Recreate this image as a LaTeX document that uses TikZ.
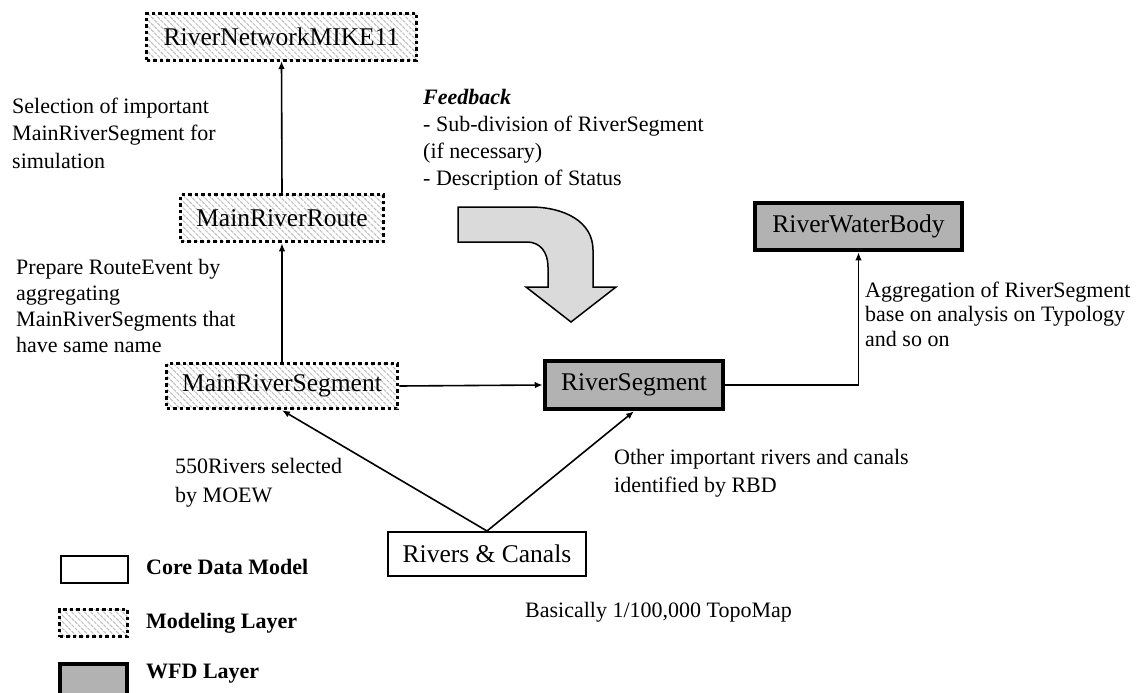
\documentclass[tikz,border=0pt]{standalone}
\usepackage{fontspec}
\setmainfont{Liberation Serif}
\usetikzlibrary{arrows.meta,patterns.meta}
\definecolor{wfdgray}{HTML}{B2B2B2}
\definecolor{hatchgray}{HTML}{BEBEBE}
\definecolor{feedgray}{HTML}{DADADA}

\begin{document}
\begin{tikzpicture}[x=1pt,y=-1pt,
  boxfont/.style={font=\fontsize{25.5}{30}\selectfont},
  core/.style={boxfont, draw, line width=2pt, fill=white, inner sep=0pt},
  model/.style={boxfont, draw, line width=3.5pt, dash pattern=on 3.5pt off 3pt,
    pattern={Lines[angle=-45,distance=4.5pt,line width=1pt]}, pattern color=hatchgray,
    inner sep=0pt},
  wfd/.style={boxfont, draw, line width=4.5pt, fill=wfdgray, inner sep=0pt},
  conn/.style={line width=1.6pt, -{Latex[length=8pt,width=6.5pt]}},
  % multi-line notes are placed by the baseline of their last line
  note/.style={anchor=base west, align=left, inner sep=0pt,
    font=\fontsize{22}{#1}\selectfont},
  legend/.style={anchor=base west, inner sep=0pt,
    font=\fontsize{22}{26}\selectfont\bfseries},
]
\useasboundingbox (0,0) rectangle (1140,693);

% data model boxes
\node[model, minimum width=270pt, minimum height=47pt] (mike) at (281.5,37) {RiverNetworkMIKE11};
\node[model, minimum width=203pt, minimum height=47pt] (route) at (282,218) {MainRiverRoute};
\node[model, minimum width=231pt, minimum height=45pt] (mseg) at (282,386) {MainRiverSegment};
\node[wfd, minimum width=178pt, minimum height=48pt] (rseg) at (634,385) {RiverSegment};
\node[wfd, minimum width=207pt, minimum height=47pt] (rwb) at (858.5,226.5) {RiverWaterBody};
\node[core, minimum width=198pt, minimum height=44pt] (rc) at (487,554) {Rivers \& Canals};

% connectors
\draw[conn] (route.north) -- (mike.south);
\draw[conn] (mseg.north) -- (route.south);
\draw[conn] (mseg.east) -- (rseg.west);
\draw[conn] (rseg.east) -| (rwb.south);
\draw[conn] (rc.north) -- (mseg.south);
\draw[conn] (rc.north) -- (rseg.south);

% feedback arrow
\draw[line width=1.5pt, fill=feedgray, line join=miter]
  (458,207) -- (530,207) .. controls (565,207) and (593,222) .. (593,250)
  -- (593,287) -- (616,287) -- (571,322) -- (526,287) -- (548,287) -- (548,267)
  .. controls (548,252) and (540,242) .. (527,242) -- (458,242) -- cycle;

% annotations
\node[note=27.8] (selnote) at (12,168.6) {Selection of important\\MainRiverSegment for\\simulation};
\node[note=25.7] (prepnote) at (16,352) {Prepare RouteEvent by\\aggregating\\MainRiverSegments that\\have same name};
\node[note=26.7] (feednote) at (423,185) {\textbf{\textit{Feedback}}\\- Sub-division of RiverSegment\\(if necessary)\\- Description of Status};
\node[note=24.5] (aggnote) at (865,346) {Aggregation of RiverSegment\\base on analysis on Typology\\and so on};
\node[note=29] (moewnote) at (175,502) {550Rivers selected\\by MOEW};
\node[note=28] (rbdnote) at (614,492) {Other important rivers and canals\\identified by RBD};
\node[note=26] (topnote) at (525,617) {Basically 1/100,000 TopoMap};

% legend
\node[core, minimum width=67pt, minimum height=27pt] (lgcore) at (94.5,569.5) {};
\node[model, minimum width=68pt, minimum height=27pt] (lgmodel) at (93.5,623) {};
\node[wfd, minimum width=67pt, minimum height=34pt] (lgwfd) at (93.5,681) {};
\node[legend] (lgcoretext) at (146,574) {Core Data Model};
\node[legend] (lgmodeltext) at (146,628) {Modeling Layer};
\node[legend] (lgwfdtext) at (146,678) {WFD Layer};
\end{tikzpicture}
\end{document}
